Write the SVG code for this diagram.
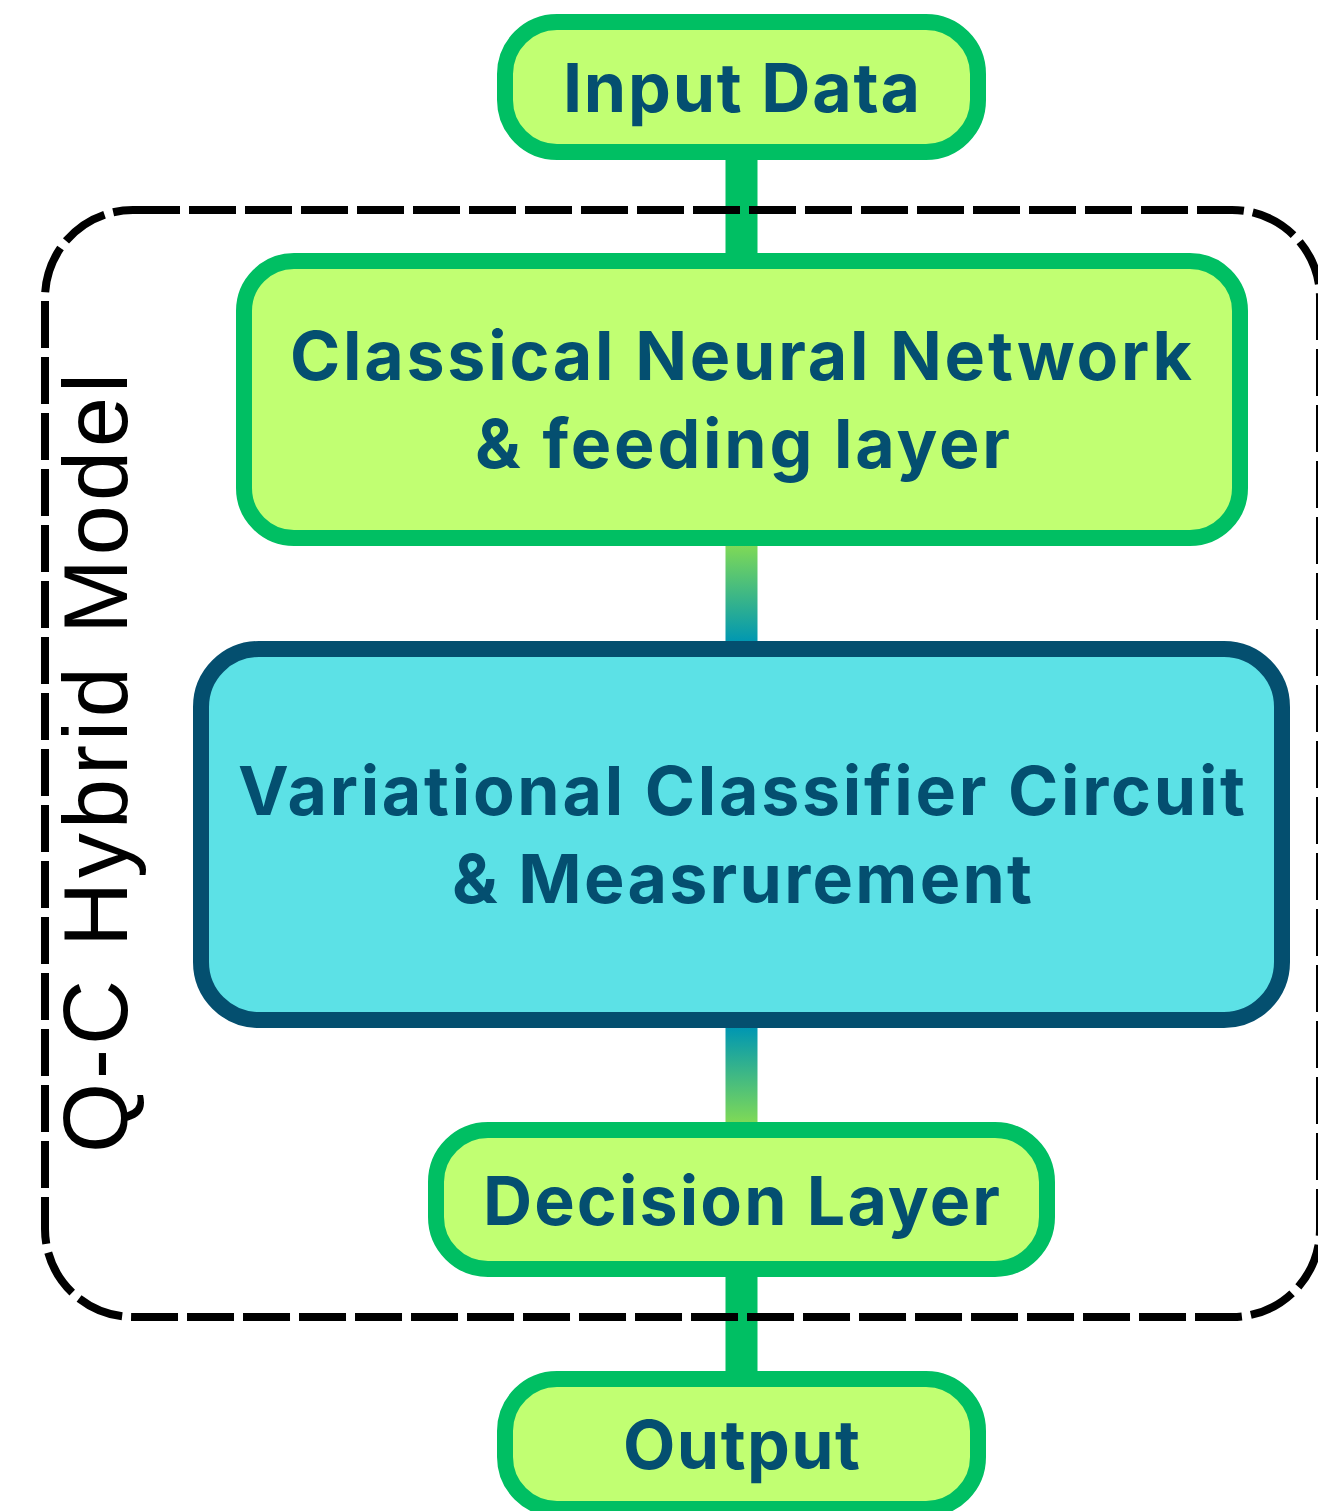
<svg xmlns="http://www.w3.org/2000/svg" width="1318" height="1511" viewBox="0 0 1318 1511">
  <style>
    .g { fill: #c1ff72; stroke: #00bf63; stroke-width: 16; }
    .q { fill: #5ce1e6; stroke: #044f6f; stroke-width: 16; }
    .t { font-family: Inter, "Noto Sans", "Liberation Sans", sans-serif; font-weight: 700; font-size: 68px; fill: #044f70; text-anchor: middle; }
    .lbl { font-family: "Liberation Sans", Arial, sans-serif; font-size: 90px; fill: #000; text-anchor: middle; }
  </style>
  <defs>
    <linearGradient id="gradDown" gradientUnits="userSpaceOnUse" x1="0" y1="546" x2="0" y2="642">
      <stop offset="0" stop-color="#7ed957"/>
      <stop offset="1" stop-color="#0097b2"/>
    </linearGradient>
    <linearGradient id="gradUp" gradientUnits="userSpaceOnUse" x1="0" y1="1028" x2="0" y2="1122">
      <stop offset="0" stop-color="#0097b2"/>
      <stop offset="1" stop-color="#7ed957"/>
    </linearGradient>
  </defs>
  <rect width="1318" height="1511" fill="#ffffff"/>

  <g id="connectors">
    <rect x="725.5" y="158" width="32" height="97" fill="#00bf63"/>
    <rect x="725.5" y="546" width="32" height="96" fill="url(#gradDown)"/>
    <rect x="725.5" y="1028" width="32" height="94" fill="url(#gradUp)"/>
    <rect x="725.5" y="1275" width="32" height="98" fill="#00bf63"/>
  </g>

  <g id="group-qc-hybrid">
    <path d="M133 210 H1232 A88 88 0 0 1 1320 298 V1229 A88 88 0 0 1 1232 1317 H133 A88 88 0 0 1 45 1229 V298 A88 88 0 0 1 133 210 Z" fill="none" stroke="#000" stroke-width="8" stroke-dasharray="47 9"/>
    <text class="lbl" transform="translate(127 763) rotate(-90)" textLength="780" lengthAdjust="spacing">Q-C Hybrid Model</text>
  </g>

  <g id="node-input">
    <rect class="g" x="505" y="22" width="473" height="130" rx="52"/>
    <text class="t" x="741.5" y="112" textLength="357" lengthAdjust="spacing">Input Data</text>
  </g>

  <g id="node-classical">
    <rect class="g" x="244" y="261" width="996" height="277" rx="50"/>
    <text class="t" x="741" y="380" textLength="902" lengthAdjust="spacing">Classical Neural Network</text>
    <text class="t" x="742.5" y="468" textLength="535" lengthAdjust="spacing">&amp; feeding layer</text>
  </g>

  <g id="node-vcc">
    <rect class="q" x="201" y="649" width="1081" height="371" rx="58"/>
    <text class="t" x="741.5" y="815" textLength="1007" lengthAdjust="spacing">Variational Classifier Circuit</text>
    <text class="t" x="742" y="903" textLength="580" lengthAdjust="spacing">&amp; Measrurement</text>
  </g>

  <g id="node-decision">
    <rect class="g" x="436" y="1130" width="611" height="139" rx="52"/>
    <text class="t" x="741.5" y="1225" textLength="517" lengthAdjust="spacing">Decision Layer</text>
  </g>

  <g id="node-output">
    <rect class="g" x="505" y="1379" width="473" height="130" rx="52"/>
    <text class="t" x="741.5" y="1469" textLength="237" lengthAdjust="spacing">Output</text>
  </g>
</svg>
